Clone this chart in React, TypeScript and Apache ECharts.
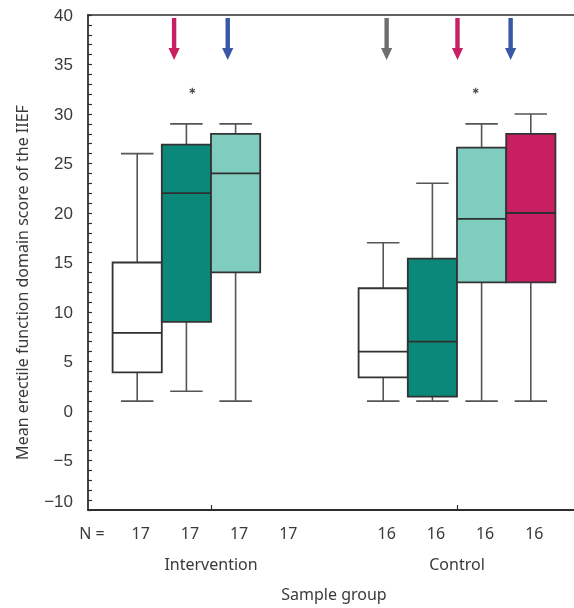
import React, { useEffect, useRef } from 'react';
import * as echarts from 'echarts';

// N labels under each box slot
const nPositions = [1, 2, 3, 4, 6, 7, 8, 9];
const nLabels = ['17', '17', '17', '17', '16', '16', '16', '16'];
const nPrefixPos = 0.01;
const nPrefix = 'N =';

// group labels
const groupPositions = [2.5, 7.5];
const groupNames = ['Intervention', 'Control'];

// boxes (slot 4 in intervention has no box)
const boxPositions = [1, 2, 3, 6, 7, 8, 9];
const boxMin = [1, 2, 1, 1, 1, 1, 1];
const boxQ1 = [3.9, 9, 14, 3.4, 1.45, 13, 13];
const boxMedian = [7.9, 22, 24, 6, 7, 19.4, 20];
const boxQ3 = [15, 26.9, 28, 12.4, 15.4, 26.6, 28];
const boxMax = [26, 29, 29, 17, 23, 29, 30];
const boxColorIdx = [0, 1, 2, 0, 1, 2, 3];

const palette = ['#ffffff', '#0b887a', '#7ecdbf', '#c81f62'];

// arrows
const arrowPositions = [1.75, 2.84, 6.07, 7.51, 8.59];
const arrowTop = [39.7, 39.7, 39.7, 39.7, 39.7];
const arrowTip = [35.45, 35.45, 35.45, 35.45, 35.45];
const arrowColorIdx = [0, 1, 2, 0, 1];
const arrowPalette = ['#c91f63', '#3a57a7', '#6e6e71'];

// significance asterisks
const starX = [2.12, 7.88];
const starY = [32.35, 32.35];

// x range visible in the plot (axis runs off the right edge)
const xMin = 0;
const xMax = 9.878;

const textColor = '#3a3a3a';
const font = 'Noto Sans';
const axisColor = '#2e2e2e';

export default function App() {
  const ref = useRef<HTMLDivElement>(null);
  useEffect(() => {
    const chart = echarts.init(ref.current!, null, { renderer: 'svg' });

    const boxData = boxPositions.map((p, i) => [p, boxMin[i], boxQ1[i], boxMedian[i], boxQ3[i], boxMax[i], boxColorIdx[i]]);
    const arrowData = arrowPositions.map((p, i) => [p, arrowTop[i], arrowTip[i], arrowColorIdx[i]]);
    const starData = starX.map((x, i) => [x, starY[i]]);

    const option: any = {
      animation: false,
      grid: {
        left: 88,
        top: 15,
        right: 0,
        height: 495,
        show: false,
        containLabel: false,
        outerBoundsMode: 'none',
      },
      xAxis: [
        {
          type: 'value',
          min: xMin,
          max: xMax,
          position: 'bottom',
          splitLine: { show: false },
          axisLine: { show: true, onZero: false, lineStyle: { color: axisColor, width: 1.8 } },
          axisTick: { show: true, inside: true, length: 5, customValues: groupPositions, lineStyle: { color: axisColor, width: 1.2 } },
          axisLabel: {
            show: true,
            customValues: [nPrefixPos, ...nPositions],
            formatter: (v: number) => (v < 0.5 ? nPrefix : nLabels[nPositions.indexOf(v)]),
            margin: 15,
            padding: [0, 0, 0, 7],
            fontSize: 16,
            fontFamily: font,
            color: textColor,
          },
        },
        {
          type: 'value',
          min: xMin,
          max: xMax,
          position: 'bottom',
          offset: 0,
          splitLine: { show: false },
          axisLine: { show: false },
          axisTick: { show: false },
          axisLabel: {
            show: true,
            customValues: groupPositions,
            formatter: (v: number) => groupNames[groupPositions.indexOf(v)],
            margin: 46,
            fontSize: 16,
            fontFamily: font,
            color: textColor,
          },
          name: 'Sample group',
          nameLocation: 'middle',
          nameGap: 76,
          nameTextStyle: { fontSize: 16, fontFamily: font, color: textColor, padding: [0, 0, 0, 6] },
        },
        {
          type: 'value',
          min: xMin,
          max: xMax,
          position: 'top',
          splitLine: { show: false },
          axisLine: { show: true, onZero: false, lineStyle: { color: axisColor, width: 1.6 } },
          axisTick: { show: false },
          axisLabel: { show: false },
        },
      ],
      yAxis: {
        type: 'value',
        min: -10,
        max: 40,
        interval: 5,
        splitLine: { show: false },
        axisLine: { show: true, onZero: false, lineStyle: { color: axisColor, width: 1.8 } },
        axisTick: { show: true, inside: true, length: 4, lineStyle: { color: axisColor, width: 1.2 } },
        minorTick: { show: true, splitNumber: 5, length: 4, lineStyle: { color: axisColor, width: 1.2 } },
        axisLabel: {
          margin: 15,
          fontSize: 17,
          fontFamily: 'Liberation Sans',
          color: textColor,
          formatter: (v: number) => (v < 0 ? '\u2212' + Math.abs(v) : String(v)),
          verticalAlignMinLabel: 'bottom',
        },
        name: 'Mean erectile function domain score of the IIEF',
        nameLocation: 'middle',
        nameGap: 58,
        nameTextStyle: { fontSize: 16, fontFamily: font, color: textColor, padding: [0, 40, 0, 0] },
      },
      series: [
        {
          type: 'custom',
          xAxisIndex: 0,
          clip: false,
          encode: { x: 0, y: [1, 2, 3, 4, 5] },
          data: boxData,
          renderItem: (params: any, api: any) => {
            const x = api.value(0);
            const mn = api.coord([x, api.value(1)]);
            const q1 = api.coord([x, api.value(2)]);
            const md = api.coord([x, api.value(3)]);
            const q3 = api.coord([x, api.value(4)]);
            const mx = api.coord([x, api.value(5)]);
            const ci = api.value(6);
            const bw = api.size([1, 0])[0];
            const half = bw / 2;
            const cap = bw * 0.33;
            const cx = mn[0];
            const wStyle = { stroke: '#555555', lineWidth: 1.6 };
            return {
              type: 'group',
              children: [
                { type: 'line', shape: { x1: cx, y1: mx[1], x2: cx, y2: q3[1] }, style: wStyle },
                { type: 'line', shape: { x1: cx - cap, y1: mx[1], x2: cx + cap, y2: mx[1] }, style: wStyle },
                { type: 'line', shape: { x1: cx, y1: mn[1], x2: cx, y2: q1[1] }, style: wStyle },
                { type: 'line', shape: { x1: cx - cap, y1: mn[1], x2: cx + cap, y2: mn[1] }, style: wStyle },
                {
                  type: 'rect',
                  shape: { x: cx - half, y: q3[1], width: bw, height: q1[1] - q3[1] },
                  style: { fill: palette[ci], stroke: '#333333', lineWidth: 1.8 },
                },
                {
                  type: 'line',
                  shape: { x1: cx - half, y1: md[1], x2: cx + half, y2: md[1] },
                  style: { stroke: '#2f2f2f', lineWidth: 1.8 },
                },
              ],
            };
          },
        },
        {
          type: 'custom',
          xAxisIndex: 0,
          clip: false,
          encode: { x: 0, y: [1, 2] },
          data: arrowData,
          renderItem: (params: any, api: any) => {
            const x = api.value(0);
            const top = api.coord([x, api.value(1)]);
            const tip = api.coord([x, api.value(2)]);
            const col = arrowPalette[api.value(3)];
            const cx = top[0];
            const sw = 2.2;
            const hw = 5.6;
            const hl = 12;
            return {
              type: 'polygon',
              shape: {
                points: [
                  [cx - sw, top[1]],
                  [cx + sw, top[1]],
                  [cx + sw, tip[1] - hl],
                  [cx + hw, tip[1] - hl],
                  [cx, tip[1]],
                  [cx - hw, tip[1] - hl],
                  [cx - sw, tip[1] - hl],
                ],
              },
              style: { fill: col },
            };
          },
        },
        {
          type: 'custom',
          xAxisIndex: 0,
          clip: false,
          encode: { x: 0, y: 1 },
          data: starData,
          renderItem: (params: any, api: any) => {
            const p = api.coord([api.value(0), api.value(1)]);
            const r = 3;
            const st = { stroke: '#444444', lineWidth: 1.1 };
            const lines = [90, 30, 150].map((a) => {
              const rad = (a * Math.PI) / 180;
              const dx = Math.cos(rad) * r;
              const dy = Math.sin(rad) * r;
              return { type: 'line', shape: { x1: p[0] - dx, y1: p[1] - dy, x2: p[0] + dx, y2: p[1] + dy }, style: st };
            });
            return { type: 'group', children: lines };
          },
        },
      ],
    };

    chart.setOption(option);
    return () => chart.dispose();
  }, []);
  return <div ref={ref} style={{ position: 'fixed', left: 0, top: 0, width: 574, height: 608 }} />;
}
